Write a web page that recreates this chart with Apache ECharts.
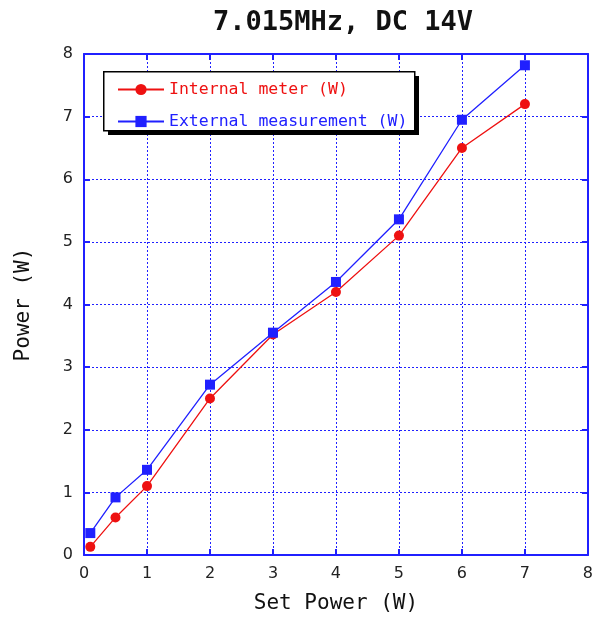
<!DOCTYPE html>
<html>
<head>
<meta charset="utf-8">
<script src="https://cdn.jsdelivr.net/npm/echarts@6/dist/echarts.min.js"></script>
<style>
  html, body { margin: 0; padding: 0; background: #fff; }
  #chart { width: 596px; height: 619px; }
</style>
</head>
<body>
<div id="chart"></div>
<script>
// set power (x) and measured values
var setPower = [0.1, 0.5, 1, 2, 3, 4, 5, 6, 7];
var internalMeter = [0.13, 0.6, 1.1, 2.5, 3.52, 4.2, 5.1, 6.5, 7.2];
var externalMeas = [0.35, 0.92, 1.36, 2.72, 3.55, 4.36, 5.36, 6.95, 7.82];
var ticks = [0, 1, 2, 3, 4, 5, 6, 7, 8];

var blue = '#2020ff';
var red = '#ee1111';
var mono = '"DejaVu Sans Mono", "Liberation Mono", monospace';

function pairs(xs, ys) {
  var out = [];
  for (var i = 0; i < xs.length; i++) out.push([xs[i], ys[i]]);
  return out;
}

var chart = echarts.init(document.getElementById('chart'));

// common axis look, the plot frame is drawn by 4 axes
function axis(pos, withLabel, name) {
  return {
    type: 'value',
    position: pos,
    min: ticks[0],
    max: ticks[ticks.length - 1],
    interval: 1,
    name: name || '',
    nameLocation: 'middle',
    nameGap: pos === 'bottom' ? 38 : 50,
    nameTextStyle: { color: '#111', fontFamily: mono, fontSize: 21 },
    axisLine: { show: true, onZero: false, lineStyle: { color: blue, width: 2 } },
    axisTick: { show: true, inside: true, length: 6, lineStyle: { color: blue, width: 2 } },
    axisLabel: {
      show: withLabel,
      color: '#222',
      fontFamily: '"DejaVu Sans", sans-serif',
      fontSize: 16,
      margin: 11
    },
    splitLine: {
      show: withLabel,
      lineStyle: { color: blue, width: 1, type: [2, 2] }
    }
  };
}

var option = {
  animation: false,
  backgroundColor: '#fff',
  title: {
    text: '7.015MHz, DC 14V',
    left: 338,
    textAlign: 'center',
    top: 4,
    textStyle: { fontFamily: mono, fontWeight: 'bold', fontSize: 27, color: '#111' }
  },
  grid: { left: 84, right: 6, top: 54, bottom: 59 },
  // legend frame with the hard black drop shadow
  graphic: [
    { type: 'rect', left: 108, top: 76, z: 10,
      shape: { width: 311, height: 59 }, style: { fill: '#000' } },
    { type: 'rect', left: 103, top: 71, z: 11,
      shape: { width: 311, height: 59 }, style: { fill: '#fff', stroke: '#000', lineWidth: 1.5 } }
  ],
  legend: {
    orient: 'vertical',
    left: 103,
    top: 71,
    z: 20,
    padding: [10, 8, 4, 14],
    itemGap: 15,
    itemWidth: 46,
    itemHeight: 14,
    textStyle: { fontFamily: mono, fontSize: 16.5, lineHeight: 16 },
    data: [
      { name: 'Internal meter (W)', textStyle: { color: red } },
      { name: 'External measurement (W)', textStyle: { color: blue } }
    ]
  },
  xAxis: [axis('bottom', true, 'Set Power (W)'), axis('top', false)],
  yAxis: [axis('left', true, 'Power (W)'), axis('right', false)],
  series: [
    {
      name: 'Internal meter (W)',
      type: 'line',
      data: pairs(setPower, internalMeter),
      symbol: 'circle',
      symbolSize: 10,
      lineStyle: { color: red, width: 1.3 },
      itemStyle: { color: red }
    },
    {
      name: 'External measurement (W)',
      type: 'line',
      data: pairs(setPower, externalMeas),
      symbol: 'rect',
      symbolSize: 10,
      lineStyle: { color: blue, width: 1.3 },
      itemStyle: { color: blue }
    }
  ]
};

chart.setOption(option);
</script>
</body>
</html>
